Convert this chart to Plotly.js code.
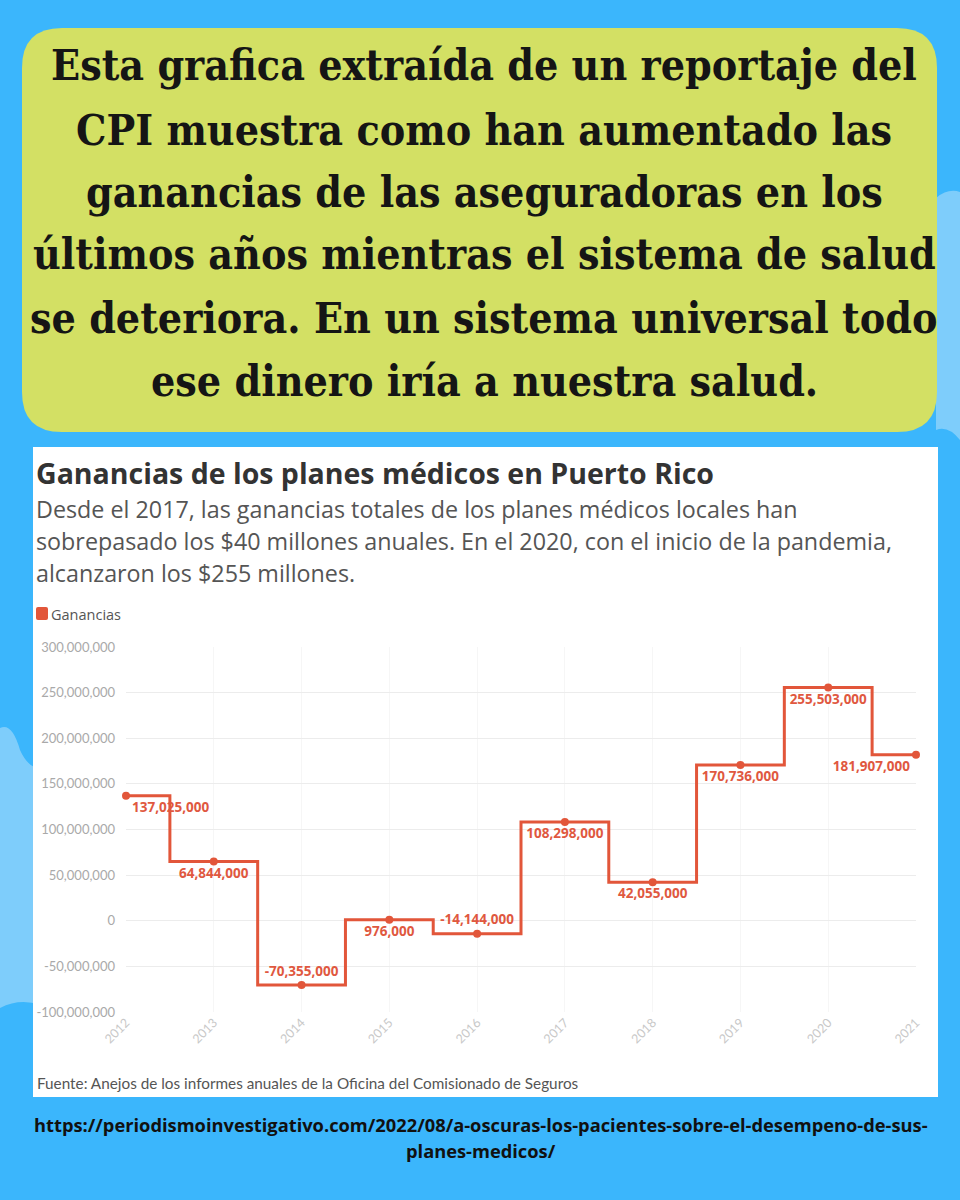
<!DOCTYPE html>
<html><head><meta charset="utf-8">
<script src="https://cdn.plot.ly/plotly-3.0.1.min.js"></script>
<style>html,body{margin:0;padding:0;background:#3bb6fc;}#chart{width:960px;height:1200px;}</style>
</head><body><div id="chart"></div>
<script>
const years = [2012, 2013, 2014, 2015, 2016, 2017, 2018, 2019, 2020, 2021];
const ganancias = [137025000, 64844000, -70355000, 976000, -14144000, 108298000, 42055000, 170736000, 255503000, 181907000];
const labelPos = ['bottom right','bottom center','top center','bottom center','top center','bottom center','bottom center','bottom center','bottom center','bottom left'];
const yTicks = [-100000000, -50000000, 0, 50000000, 100000000, 150000000, 200000000, 250000000, 300000000];
const yTickText = ['-100,000,000','-50,000,000','0','50,000,000','100,000,000','150,000,000','200,000,000','250,000,000','300,000,000'];

const headlineLines = ['Esta grafica extraída de un reportaje del', 'CPI muestra como han aumentado las', 'ganancias de las aseguradoras en los', 'últimos años mientras el sistema de salud', 'se deteriora. En un sistema universal todo', 'ese dinero iría a nuestra salud.'];
const chartTitle = 'Ganancias de los planes médicos en Puerto Rico';
const chartSubLines = ['Desde el 2017, las ganancias totales de los planes médicos locales han', 'sobrepasado los $40 millones anuales. En el 2020, con el inicio de la pandemia,', 'alcanzaron los $255 millones.'];
const legendName = 'Ganancias';
const source = 'Fuente: Anejos de los informes anuales de la Oficina del Comisionado de Seguros';
const urlLines = ['https://periodismoinvestigativo.com/2022/08/a-oscuras-los-pacientes-sobre-el-desempeno-de-sus-', 'planes-medicos/'];

const fmt = v => (v < 0 ? '-' : '') + Math.abs(v).toLocaleString('en-US');
const RED = '#e2563a';
const W = 960, H = 1200;
const M = {l: 126, r: 44, t: 647, b: 188};
const PW = W - M.l - M.r, PH = H - M.t - M.b;
const fx = p => (p - M.l) / PW;
const fy = p => (H - M.b - p) / PH;

const trace = {
  x: years, y: ganancias, type: 'scatter', mode: 'lines+markers+text',
  line: {shape: 'hvh', color: RED, width: 3},
  marker: {color: RED, size: 8},
  text: ganancias.map(fmt), textposition: labelPos,
  textfont: {family: 'Open Sans, sans-serif', size: 13.5, color: '#e0583f', weight: 'bold'},
  cliponaxis: false, hoverinfo: 'skip', showlegend: false
};

// pixel path (top-left origin) -> paper path
const P = s => s.replace(/(-?\d+\.?\d*) (-?\d+\.?\d*)/g, (m, a, b) => fx(+a).toFixed(5) + ',' + fy(+b).toFixed(5));
const shp = (path, fill, layer) => ({type:'path', xref:'paper', yref:'paper', path: P(path), fillcolor: fill, line:{width:0}, layer: layer || 'below'});

const shapes = [
  shp('M 936 198 Q 948 188 960 192 L 960 440 Q 948 425 936 430 Z', '#7ecdfb'),
  shp('M 0 728 Q 12 722 20 750 Q 28 768 40 768 L 40 1005 Q 20 998 0 1008 Z', '#7ecdfb'),
  shp('M 62 28 L 897 28 Q 937 28 937 68 L 937 392 Q 937 432 897 432 L 62 432 Q 22 432 22 392 L 22 68 Q 22 28 62 28 Z', '#d3e064'),
  shp('M 33 447 L 938 447 L 938 1097 L 33 1097 Z', '#ffffff'),
  shp('M 38 607 L 46 607 Q 48 607 48 609 L 48 618 Q 48 620 46 620 L 38 620 Q 36 620 36 618 L 36 609 Q 36 607 38 607 Z', RED, 'above')
];

const ann = (x, y, text, font, opts) => Object.assign({xref:'paper', yref:'paper', x: fx(x), y: fy(y), text, showarrow:false, font, xanchor:'left', yanchor:'middle', align:'left'}, opts || {});

const annotations = [];
const headCenters = [65, 130, 192, 254, 318, 381];
headlineLines.forEach((t, i) => annotations.push(ann(484, headCenters[i], t, {family:'DejaVu Serif Condensed, DejaVu Serif, serif', size:42.5, color:'#151515', weight:'bold'}, {xanchor:'center', align:'center'})));
annotations.push(ann(34, 473, '<b>' + chartTitle + '</b>', {family:'Open Sans, sans-serif', size:28.5, color:'#333'}));
const subCenters = [509, 541, 573];
chartSubLines.forEach((t, i) => annotations.push(ann(34, subCenters[i], t, {family:'Open Sans, sans-serif', size:23.3, color:'#555'})));
annotations.push(ann(49, 614, legendName, {family:'Open Sans, sans-serif', size:14.5, color:'#555'}));
annotations.push(ann(35, 1083, source, {family:'Lato, sans-serif', size:15.3, color:'#555'}));
const urlCenters = [1124, 1150];
urlLines.forEach((t, i) => annotations.push(ann(481, urlCenters[i], '<b>' + t + '</b>', {family:'Open Sans, sans-serif', size:18.3, color:'#111'}, {xanchor:'center', align:'center'})));

const layout = {
  width: W, height: H,
  paper_bgcolor: '#3bb6fc', plot_bgcolor: 'rgba(0,0,0,0)',
  margin: M,
  xaxis: {range: [2012, 2021], tickvals: years, ticktext: years.map(String), tickangle: -45,
          tickfont: {family:'Lato, sans-serif', size: 12.5, color: '#c8c8c8'},
          showgrid: true, gridcolor: '#f6f6f6', zeroline: false, showline: false, ticks: '', automargin: false},
  yaxis: {range: [-100000000, 300000000], tickvals: yTicks, ticktext: yTickText, ticklabelstandoff: 10,
          tickfont: {family:'Lato, sans-serif', size: 13, color: '#a9a9a9'},
          showgrid: true, gridcolor: '#ececec', zeroline: false, showline: false, ticks: '', automargin: false},
  shapes, annotations, showlegend: false
};

Plotly.newPlot('chart', [trace], layout, {staticPlot: true, displayModeBar: false});
</script></body></html>
